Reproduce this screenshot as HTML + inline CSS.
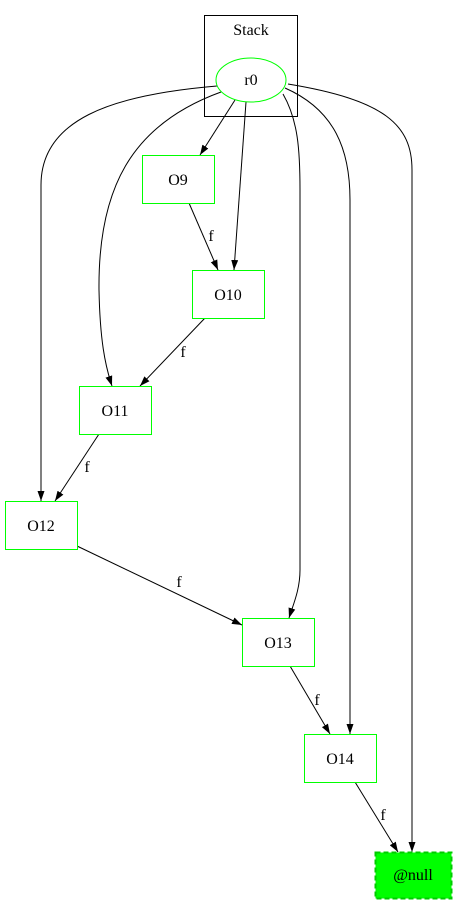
<!DOCTYPE html>
<html><head><meta charset="utf-8"><style>
html,body{margin:0;padding:0;background:#fff;}
svg text{font-family:"Liberation Serif",serif;font-size:16px;fill:#000;}
</style></head><body>
<svg width="457" height="904" viewBox="0 0 457 904" xmlns="http://www.w3.org/2000/svg">
<defs><marker id="a" viewBox="0 0 10 10" refX="10" refY="5" markerWidth="10" markerHeight="10" markerUnits="userSpaceOnUse" orient="auto"><path d="M0,1.5 L10,5 L0,8.5 z" fill="#000"/></marker></defs>
<rect x="204.5" y="15.5" width="93" height="101" fill="none" stroke="#000"/>
<text x="251" y="35" text-anchor="middle">Stack</text>
<g fill="none" stroke="#000" stroke-width="1">
<path d="M235,100 L200,155" marker-end="url(#a)"/>
<path d="M246,102 L234,270" marker-end="url(#a)"/>
<path d="M221,92 C130,125 98,190 99,290 C100,340 105,365 112,386" marker-end="url(#a)"/>
<path d="M217,86 C110,95 41,120 41,185 L41,501" marker-end="url(#a)"/>
<path d="M283,94 C298,120 300,150 300,190 L300,570 C300,590 293,605 289,618" marker-end="url(#a)"/>
<path d="M285,88 C335,110 350,150 350,200 L350,734" marker-end="url(#a)"/>
<path d="M288,84 C385,100 412,125 412,170 L412,852" marker-end="url(#a)"/>
<path d="M189,203 L218,270" marker-end="url(#a)"/>
<path d="M205,318 L140,386" marker-end="url(#a)"/>
<path d="M99,434 L55,501" marker-end="url(#a)"/>
<path d="M77,546 L242,625" marker-end="url(#a)"/>
<path d="M290,666 L330,734" marker-end="url(#a)"/>
<path d="M355,782 L398,852" marker-end="url(#a)"/>
</g>
<ellipse cx="251" cy="80" rx="35" ry="22" fill="#fff" stroke="#00ff00"/>
<text x="251" y="85" text-anchor="middle">r0</text>
<g fill="#fff" stroke="#00ff00" stroke-width="1">
<rect x="142.5" y="155.5" width="72" height="48"/>
<rect x="192.5" y="270.5" width="72" height="48"/>
<rect x="79.5" y="386.5" width="72" height="48"/>
<rect x="5.5" y="501.5" width="72" height="48" stroke="#00ff00"/>
<rect x="242.5" y="618.5" width="72" height="48"/>
<rect x="304.5" y="734.5" width="72" height="48"/>
</g>
<rect x="375.5" y="852.5" width="76" height="46" fill="#00ff00" stroke="#00cc00" stroke-width="2" stroke-dasharray="5,3"/>
<text x="178" y="185" text-anchor="middle">O9</text>
<text x="228" y="300" text-anchor="middle">O10</text>
<text x="115" y="416" text-anchor="middle">O11</text>
<text x="41" y="531" text-anchor="middle">O12</text>
<text x="278" y="648" text-anchor="middle">O13</text>
<text x="340" y="764" text-anchor="middle">O14</text>
<text x="413" y="880" text-anchor="middle">@null</text>
<text x="211" y="241" text-anchor="middle">f</text>
<text x="183" y="357" text-anchor="middle">f</text>
<text x="87" y="472" text-anchor="middle">f</text>
<text x="179" y="587" text-anchor="middle">f</text>
<text x="317" y="705" text-anchor="middle">f</text>
<text x="383" y="820" text-anchor="middle">f</text>
</svg>
</body></html>
